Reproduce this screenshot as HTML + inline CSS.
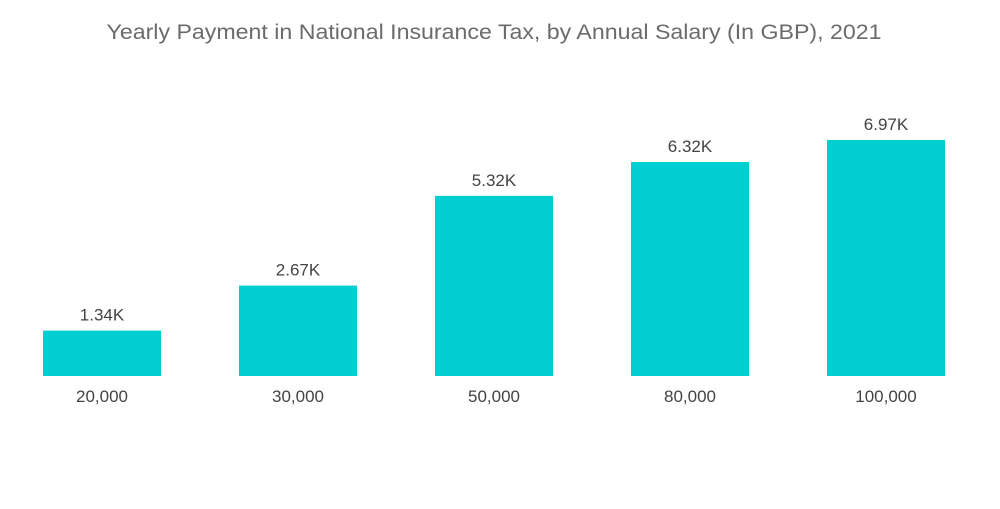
<!DOCTYPE html>
<html><head><meta charset="utf-8"><style>
body{margin:0;background:#fff;width:1000px;height:504px;overflow:hidden;font-family:"Liberation Sans",sans-serif}
</style></head><body>
<svg width="1000" height="504">
<text x="494" y="39" text-anchor="middle" font-size="21" textLength="775" lengthAdjust="spacingAndGlyphs" fill="#6b6b6b">Yearly Payment in National Insurance Tax, by Annual Salary (In GBP), 2021</text>
<g id="bars"></g>
</svg>
<script>
const categories=["20,000","30,000","50,000","80,000","100,000"];
const values=[1.34,2.67,5.32,6.32,6.97];
const valueLabels=["1.34K","2.67K","5.32K","6.32K","6.97K"];
const baseY=376, pxPerUnit=33.86, x0=4, band=196, barW=118;
function xScale(i){return x0+i*band+(band-barW)/2;}
function yScale(v){return baseY-v*pxPerUnit;}
const g=document.getElementById('bars');
const ns="http://www.w3.org/2000/svg";
categories.forEach((c,i)=>{
  const r=document.createElementNS(ns,'rect');
  r.setAttribute('x',xScale(i));r.setAttribute('y',yScale(values[i]));
  r.setAttribute('width',barW);r.setAttribute('height',baseY-yScale(values[i]));
  r.setAttribute('fill','#00ced1');
  
  
  g.appendChild(r);
  const t=document.createElementNS(ns,'text');
  t.setAttribute('x',xScale(i)+barW/2);t.setAttribute('y',yScale(values[i])-10);
  t.setAttribute('text-anchor','middle');t.setAttribute('font-size','17');t.setAttribute('fill','#444');
  t.textContent=valueLabels[i];
  
  
  g.appendChild(t);
  const l=document.createElementNS(ns,'text');
  l.setAttribute('x',xScale(i)+barW/2);l.setAttribute('y',402);
  l.setAttribute('text-anchor','middle');l.setAttribute('font-size','17');l.setAttribute('fill','#444');
  l.textContent=c;
  
  
  g.appendChild(l);
});
</script>
</body></html>
